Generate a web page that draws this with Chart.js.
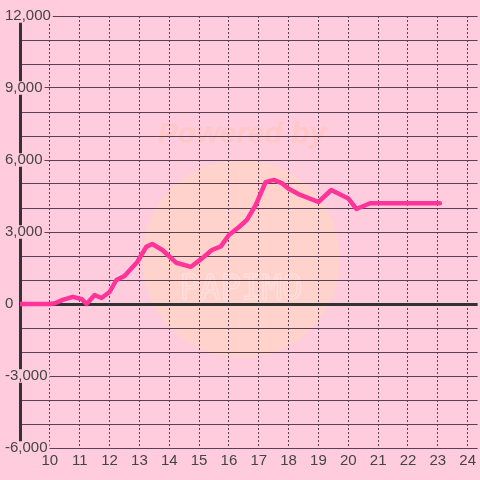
<!DOCTYPE html>
<html>
<head>
<meta charset="utf-8">
<script src="https://cdn.jsdelivr.net/npm/chart.js@4/dist/chart.umd.min.js"></script>
<style>
html,body{margin:0;padding:0;background:#FFCCDD;}
#wrap{width:480px;height:480px;}
</style>
</head>
<body>
<div id="wrap"><canvas id="c" width="480" height="480"></canvas></div>
<script>
// Data
const hours  = [9.0, 10.0, 10.17, 10.43, 10.77, 11.07, 11.23, 11.5, 11.73, 12.0, 12.23, 12.5, 12.93, 13.23, 13.43, 13.77, 14.23, 14.73, 15.1, 15.43, 15.73, 16.0, 16.33, 16.6, 16.9, 17.23, 17.5, 17.77, 18.0, 18.33, 19.0, 19.43, 20.0, 20.27, 20.73, 23.07];
const values = [0, 0, 30, 170, 300, 200, 0, 375, 250, 500, 1000, 1170, 1750, 2380, 2500, 2250, 1720, 1550, 1900, 2250, 2400, 2875, 3200, 3500, 4125, 5080, 5170, 5040, 4800, 4580, 4250, 4750, 4400, 3960, 4200, 4200];
const xTicks = [10, 11, 12, 13, 14, 15, 16, 17, 18, 19, 20, 21, 22, 23, 24];
const yLabelStep = 3000;

const BG = '#FFCCDD';
const GRID = '#5a4050';
const TEXT = '#444444';

const watermark = {
  id: 'watermark',
  beforeDraw(chart) {
    const ctx = chart.ctx;
    ctx.save();
    ctx.fillStyle = BG;
    ctx.fillRect(0, 0, chart.width, chart.height);
    ctx.beginPath();
    ctx.arc(241, 259, 99, 0, Math.PI * 2);
    ctx.fillStyle = 'rgba(255,222,170,0.35)';
    ctx.fill();
    ctx.font = 'italic bold 30px "Liberation Sans", Arial, sans-serif';
    ctx.fillStyle = 'rgba(255,190,150,0.3)';
    ctx.textAlign = 'center';
    ctx.textBaseline = 'middle';
    ctx.fillText('Powered by', 242, 135);
    ctx.font = '34px "DejaVu Sans Mono", monospace';
    ctx.strokeStyle = 'rgba(255,235,240,0.5)';
    ctx.lineWidth = 1.5;
    ctx.strokeText('PAPIMO', 241, 290);
    ctx.restore();
  }
};

new Chart(document.getElementById('c'), {
  type: 'line',
  data: {
    datasets: [{
      data: hours.map((h, i) => ({ x: h, y: values[i] })),
      borderColor: '#FF3399',
      borderWidth: 4.5,
      pointRadius: 0,
      tension: 0,
      borderJoinStyle: 'round',
      borderCapStyle: 'round',
      fill: false
    }]
  },
  options: {
    responsive: false,
    animation: false,
    devicePixelRatio: 1,
    layout: { padding: { left: 5, top: 16, right: 0, bottom: 0 } },
    plugins: { legend: { display: false }, tooltip: { enabled: false } },
    scales: {
      x: {
        type: 'linear',
        min: 9,
        max: 24 + 1 / 3,
        afterBuildTicks: (s) => { s.ticks = xTicks.map(v => ({ value: v })); },
        afterFit: (s) => { s.height = 32; },
        grid: { color: GRID, lineWidth: 1, drawTicks: false },
        border: { display: false, dash: [2, 2] },
        ticks: {
          color: TEXT,
          padding: 4,
          maxRotation: 0,
          autoSkip: false,
          font: { family: '"Liberation Sans", Arial, sans-serif', size: 15 },
          callback: (v) => String(v)
        }
      },
      y: {
        min: -6000,
        max: 12000,
        afterFit: (s) => { s.width = 15; },
        grid: {
          color: (c) => (c.tick && c.tick.value === 0) ? '#333333' : GRID,
          lineWidth: (c) => (c.tick && c.tick.value === 0) ? 3 : 1,
          drawTicks: false
        },
        border: { display: true, color: '#333333', width: 3 },
        ticks: {
          stepSize: 1000,
          color: TEXT,
          mirror: true,
          crossAlign: 'near',
          padding: -15,
          showLabelBackdrop: true,
          backdropColor: BG,
          backdropPadding: { left: 0, right: 2, top: 0, bottom: 0 },
          font: { family: '"Liberation Sans", Arial, sans-serif', size: 15, lineHeight: 0.9 },
          callback: (v) => (v % yLabelStep === 0) ? v.toLocaleString('en-US') : ''
        }
      }
    }
  },
  plugins: [watermark]
});
</script>
</body>
</html>
